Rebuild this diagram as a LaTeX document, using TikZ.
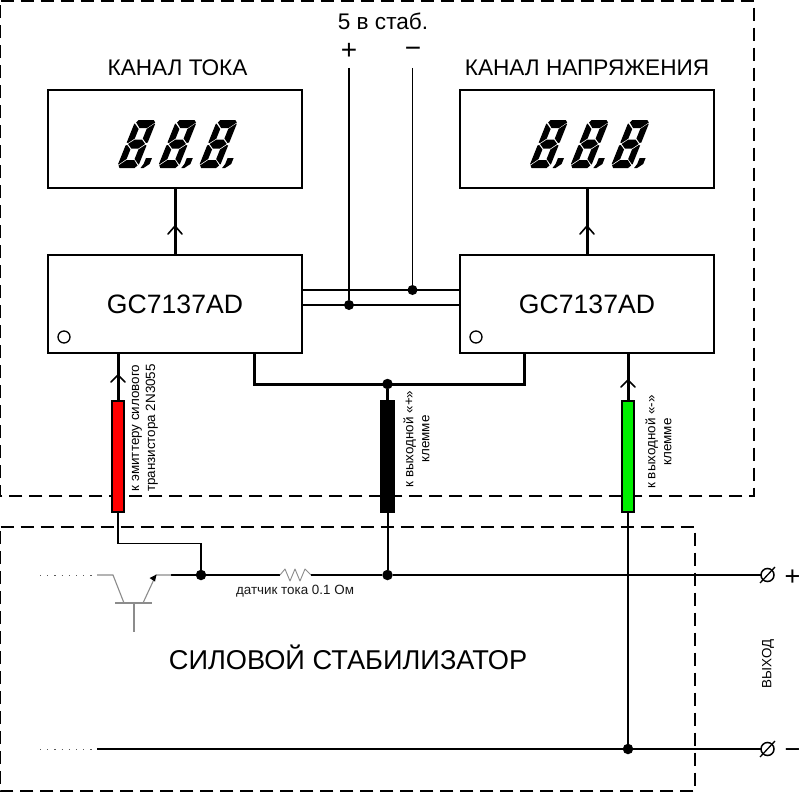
\documentclass[tikz,border=0pt]{standalone}
\usepackage{fontspec}
\setmainfont{Liberation Sans}
\usetikzlibrary{arrows.meta}
\tikzset{
  block/.style={draw=black,line width=1.5pt,fill=white,minimum width=254pt,minimum height=98pt,inner sep=0pt,outer sep=0pt},
  frameline/.style={draw=black,line width=1.3pt,dash pattern=on 13pt off 7pt},
  wire/.style={draw=black,line width=1.6pt},
  thickwire/.style={draw=black,line width=3pt},
  railwire/.style={draw=black,line width=1.5pt},
  gaugewire/.style={draw=black!45,line width=1.1pt},
  dotwire/.style={draw=black!65,line width=1pt,dash pattern=on 1.2pt off 6pt},
  junction/.style={circle,fill=black,inner sep=0pt,minimum size=10.5pt,outer sep=0pt},
  tube/.style={draw=black,line width=1.5pt,minimum width=12pt,minimum height=111pt,inner sep=0pt,outer sep=0pt},
  barb/.style={draw=black,line width=1.6pt,line cap=round},
  term/.style={circle,draw=black,fill=white,line width=1.5pt,inner sep=0pt,minimum size=13pt,outer sep=0pt},
  led/.style={circle,draw=black,line width=1.3pt,inner sep=0pt,minimum size=12pt},
  sidelabel/.style={rotate=90,font=\fontsize{13.4}{16}\selectfont,align=center,text=black,inner sep=0pt},
  heading/.style={font=\fontsize{22.6}{24}\selectfont,inner sep=0pt,text=black},
  chiplabel/.style={font=\fontsize{26.6}{28}\selectfont,inner sep=0pt,text=black},
  signlabel/.style={font=\fontsize{28}{30}\selectfont,inner sep=0pt,text=black},
}
\newcommand{\sevenseg}[2]{%
 \begin{scope}[shift={(#1+19.2,#2)},xslant=0.4]
  \fill (3,0)--(18,0)--(20.5,2.5)--(14.5,8)--(7,8)--(1.5,2.5)--cycle;
  \fill (0.5,3.5)--(6.5,9)--(6.5,18.5)--(1.5,23)--(0,22.5)--(0,4)--cycle;
  \fill (20.5,3.5)--(14.5,9)--(14.5,18.5)--(19.5,23)--(21,22.5)--(21,4)--cycle;
  \fill (2,24)--(7,19.5)--(14,19.5)--(19,24)--(14,28.5)--(7,28.5)--cycle;
  \fill (1.5,25)--(6.5,29.5)--(6.5,39)--(0.5,44.5)--(0,44)--(0,25.5)--cycle;
  \fill (19.5,25)--(14.5,29.5)--(14.5,39)--(20.5,44.5)--(21,44)--(21,25.5)--cycle;
  \fill (7,40)--(14.5,40)--(20,45.5)--(18,48)--(3,48)--(1,45.5)--cycle;
  \fill (25.5,38)--(31.5,38)--(31.5,44)--(27,48)--(24,48)--(25.5,44)--cycle;
 \end{scope}%
}
\begin{document}
\begin{tikzpicture}[x=1pt,y=-1pt]
\useasboundingbox (0,0) rectangle (800,792);
\fill[white] (0,0) rectangle (800,792);

% dashed frames
\draw[frameline] (0.7,1) -- (754,1) -- (754,496) -- (0.7,496) -- cycle;
\draw[frameline] (0.7,527) -- (695,527) -- (695,791) -- (0.7,791) -- cycle;

% blocks
\node[block] (disp1) at (175,139) {};
\node[block] (disp2) at (587,139) {};
\node[block] (chip1) at (175,304) {};
\node[block] (chip2) at (587,304) {};
\node[chiplabel] at (chip1) {GC7137AD};
\node[chiplabel] at (chip2) {GC7137AD};
\node[led] (led1) at (64,337) {};
\node[led] (led2) at (476,337) {};
\node[heading] (h1) at (177.5,68) {КАНАЛ ТОКА};
\node[heading] (h2) at (587,68) {КАНАЛ НАПРЯЖЕНИЯ};

% displays
\foreach \dx in {116.5,157.3,198.1} {\sevenseg{\dx}{120}}
\foreach \dx in {528.5,569.3,610.1} {\sevenseg{\dx}{120}}

% display links
\draw[thickwire] (chip1.north) -- (disp1.south);
\draw[thickwire] (chip2.north) -- (disp2.south);
\draw[barb] (168,234) -- (175,226) -- (182,234);
\draw[barb] (580,234) -- (587,226) -- (594,234);

% supply
\node[heading] (title) at (383,21) {5 в стаб.};
\node[signlabel] (plus5) at (349,51) {+};
\node[signlabel] (minus5) at (413,52) {−};
\coordinate (p5top) at (349,68);
\coordinate (m5top) at (412.5,68);
\node[junction,minimum size=10pt] (j5p) at (349,305) {};
\node[junction,minimum size=10pt] (j5m) at (412.5,290) {};
\draw[wire] (p5top) -- (j5p);
\draw[wire] (m5top) -- (j5m);
\draw[railwire] (chip1.east |- j5m) -- (chip2.west |- j5m);
\draw[railwire] (chip1.east |- j5p) -- (chip2.west |- j5p);

% common bus
\coordinate (busl) at (254,353);
\coordinate (busr) at (524,353);
\node[junction] (jbus) at (387.5,384) {};
\draw[thickwire,line join=miter] (busl) -- (busl |- jbus) -- (busr |- jbus) -- (busr);

% tubes
\node[tube,fill={rgb,255:red,255;green,0;blue,0}] (tubeR) at (118,456.5) {};
\node[tube,fill=black,minimum width=13pt] (tubeK) at (387.5,456.5) {};
\node[tube,fill={rgb,255:red,0;green,240;blue,0}] (tubeG) at (628,456.5) {};
\draw[thickwire] (tubeR.north) -- (tubeR.north |- chip1.south);
\draw[thickwire] (tubeK.north) -- (jbus);
\draw[thickwire] (tubeG.north) -- (tubeG.north |- chip2.south);
\draw[barb] (111,382) -- (118,375) -- (125,382);
\draw[barb] (621,387) -- (628,380) -- (635,387);

\node[sidelabel] (lblR) at (145,428) {к эмиттеру силового\\транзистора 2N3055};
\node[sidelabel] (lblK) at (416.5,439) {к выходной «+»\\клемме};
\node[sidelabel] (lblG) at (658.5,442) {к выходной «-»\\клемме};

% main lines
\node[junction] (jE) at (201,575) {};
\node[junction] (jS) at (387.5,575) {};
\node[junction] (jN) at (628,749) {};
\node[term] (tp) at (767.5,575) {};
\node[term] (tm) at (767.5,749) {};
\draw[line width=1.3pt] (760,583) -- (775,567);
\draw[line width=1.3pt] (760,757) -- (775,741);
\coordinate (rl) at (280,575);
\coordinate (rr) at (311,575);
\coordinate (eend) at (171,575);
\draw[wire] (eend) -- (jE) -- (rl);
\draw[gaugewire,line width=0.9pt,line join=round] (rl) -- (285,569) -- (290,581) -- (295,569) -- (300,581) -- (305,569) -- (311,575);
\draw[wire] (rr) -- (jS) -- (tp);
\coordinate (bend) at (118,543.5);
\draw[wire] (tubeR.south) -- (bend) -- (bend -| jE) -- (jE);
\draw[wire,line width=2pt] (tubeK.south) -- (jS);
\draw[wire,line width=2pt] (tubeG.south) -- (jN);
\coordinate (lowstart) at (97,749);
\draw[wire] (lowstart) -- (tm);
\coordinate (d1) at (40,575);
\coordinate (d2) at (40,749);
\coordinate (cin) at (97,575);
\draw[dotwire] (d1) -- (cin);
\draw[dotwire] (d2) -- (lowstart);

% transistor
\coordinate (ccol) at (113,575);
\coordinate (cbase) at (124,603);
\coordinate (ebase) at (143,603);
\coordinate (etip) at (156,575);
\coordinate (barl) at (115,603);
\coordinate (barr) at (152,603);
\coordinate (stemt) at (134,603);
\coordinate (stemb) at (134,632);
\draw[gaugewire] (cin) -- (ccol) -- (cbase);
\draw[gaugewire] (ebase) -- (etip) -- (eend);
\draw[gaugewire] (barl) -- (barr);
\draw[gaugewire] (stemt) -- (stemb);
\fill[black] (156.5,574.5) -- (149.5,578) -- (155,581.5) -- cycle;

% text
\node[inner sep=0pt,font=\fontsize{13.4}{15}\selectfont,text=black!90] (sensor) at (295,591) {датчик тока 0.1 Ом};
\node[inner sep=0pt,font=\fontsize{27.2}{29}\selectfont,text=black] (powerlbl) at (348,657) {СИЛОВОЙ СТАБИЛИЗАТОР};
\node[sidelabel] (outlbl) at (768,664) {ВЫХОД};
\node[signlabel,font=\fontsize{27}{29}\selectfont] (op) at (792.5,578) {+};
\node[signlabel,font=\fontsize{27}{29}\selectfont] (om) at (792.5,754) {−};
\end{tikzpicture}
\end{document}
